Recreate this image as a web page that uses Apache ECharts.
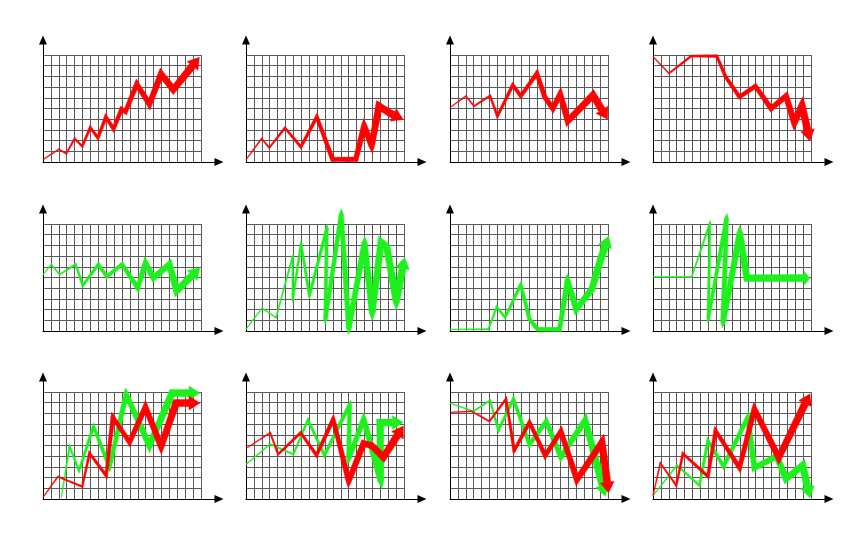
<!DOCTYPE html>
<html><head><meta charset="utf-8">
<script src="https://cdn.jsdelivr.net/npm/echarts@6/dist/echarts.min.js"></script>
<style>html,body{margin:0;background:#fff}#c{width:860px;height:538px}</style>
</head><body><div id="c"></div>
<script>
// grid ranges (20 columns x 10 rows per small chart)
const xMax = 20, yMax = 10;

// ---- data (x in grid columns, y in grid rows) ----
const p1Red = [[0,0.22],[2,1.19],[2.95,0.78],[4,2.19],[4.97,1.47],[5.98,3.22],[6.95,2.25],[7.96,4.22],[8.93,3.09],[9.94,4.94],[10.44,4.69],[11.87,7.28],[13.47,5.41],[14.95,8.22],[16.5,6.78],[19.8,9.78]];
const p2Red = [[0,0.22],[1.98,2.19],[2.95,1.34],[4.93,3.19],[6.95,1.41],[8.97,4.22],[10.95,0.25],[13.9,0.25],[14.95,3.38],[15.9,1.56],[16.84,5.22],[18.3,4.53],[19.9,3.97]];
const p3Red = [[0,5.09],[2.03,6.16],[3.04,5.22],[5.07,6.19],[6.0,4.28],[7.95,7.19],[8.97,6.16],[11.0,8.28],[11.99,6.09],[13.02,5.0],[13.95,6.34],[14.93,3.84],[18.1,6.25],[19.96,4.0]];
const p4Red = [[0,9.85],[2.02,8.28],[4.84,9.9],[8.08,9.9],[9.18,7.97],[10.95,6.09],[12.97,7.09],[14.95,5.0],[16.84,6.16],[17.9,3.66],[18.86,5.31],[19.87,1.97]];
const p5Green = [[0,5.28],[1.05,6.23],[2.1,5.28],[4.13,6.23],[5.05,4.25],[7.0,6.23],[8.08,5.09],[10.02,6.23],[12.0,4.03],[12.97,6.35],[13.98,4.97],[16.0,6.23],[16.93,3.77],[19.87,5.91]];
const p6Green = [[0,0.16],[2.03,2.14],[3.8,1.26],[5.92,6.98],[5.92,2.9],[6.97,8.18],[8.03,3.3],[10.23,9.6],[10.06,1.1],[12.05,10.9],[13.02,0.3],[15.0,8.18],[15.98,1.73],[17.1,8.3],[17.8,7.9],[19.03,2.83],[20.08,6.86]];
const p7Green = [[0,0.16],[4.86,0.16],[5.92,2.26],[6.98,1.26],[8.96,4.34],[10.06,1.1],[11.08,0.16],[13.87,0.16],[14.88,4.72],[15.98,2.04],[17.97,3.93],[19.03,6.6],[20.08,8.87]];
const p8Green = [[0,5.06],[4.9,5.06],[7.21,10.1],[7.0,1.14],[9.3,10.5],[8.89,0.89],[10.98,9.11],[11.9,4.94],[18.95,4.94],[19.87,4.94]];
const p9Green = [[2.32,0.16],[3.37,4.91],[4.55,2.66],[6.4,6.78],[8.42,2.97],[10.53,9.78],[13.47,5.0],[16.34,9.9],[19.87,9.9]];
const p9Red = [[0,0.16],[1.89,2.09],[4.97,1.16],[5.89,4.28],[8.0,2.19],[8.84,7.66],[10.95,5.31],[12.97,8.59],[14.95,4.91],[16.84,8.97],[17.9,8.97],[19.87,8.97]];
const p10Green = [[0,3.24],[3.06,5.13],[6.0,4.18],[7.84,7.39],[9.94,4.09],[13.12,8.81],[13.0,3.77],[14.89,7.45],[17.06,1.73],[16.98,7.14],[19.92,7.14]];
const p10Red = [[0,4.72],[3.06,6.19],[4.07,4.18],[6.92,6.19],[8.93,4.09],[11.03,7.45],[13.0,1.67],[14.89,5.19],[15.9,5.0],[17.4,3.9],[19.92,6.82]];
const p11Green = [[0,8.97],[2.96,8.19],[5.07,9.22],[6.13,6.42],[8.03,9.35],[10.06,5.08],[12.18,7.26],[14.04,3.93],[17.12,7.35],[19.66,0.25]];
const p11Red = [[0,8.1],[2.75,8.19],[5.0,7.26],[7.1,9.35],[8.12,4.52],[10.06,7.17],[12.05,4.05],[14.04,6.32],[16.07,1.81],[19.24,5.3],[20.08,0.56]];
const p12Green = [[0,0.31],[3.03,3.14],[5.89,1.26],[6.95,5.44],[8.93,3.05],[12.0,7.64],[12.84,2.92],[15.66,3.99],[16.84,1.89],[18.95,3.14],[19.87,0.1]];
const p12Red = [[0,0.31],[0.93,3.36],[2.95,1.26],[3.79,4.25],[6.95,2.11],[7.92,6.38],[10.95,2.92],[12.84,8.4],[15.92,3.87],[19.87,9.84]];

const RED = '#ff0000', GREEN = '#1ef01e';
const panels = [
  [[p1Red, RED]], [[p2Red, RED]], [[p3Red, RED]], [[p4Red, RED]],
  [[p5Green, GREEN]], [[p6Green, GREEN]], [[p7Green, GREEN]], [[p8Green, GREEN]],
  [[p9Green, GREEN],[p9Red, RED]], [[p10Green, GREEN],[p10Red, RED]],
  [[p11Green, GREEN],[p11Red, RED]], [[p12Green, GREEN],[p12Red, RED]]
];

// layout
const colLeft = [43, 246, 450, 653];
const rowTop = [55, 224, 392];
const GW = 158, GH = 107;

function makeRender(pts, color) {
  const W0 = 0.8, W1 = 7.2, HEAD_LEN = 11, HEAD_HW = 7, MITER = 2.6;
  return function (params, api) {
    if (params.dataIndex !== 0) return null;
    const P = pts.map(p => api.coord(p));
    const n = P.length - 1;
    const tip = P[n];
    let dx = tip[0] - P[n - 1][0], dy = tip[1] - P[n - 1][1];
    const L = Math.hypot(dx, dy) || 1; dx /= L; dy /= L;
    const hl = Math.min(HEAD_LEN, L * 0.8);
    const base = [tip[0] - dx * hl, tip[1] - dy * hl];
    const S = P.slice(0, n).concat([base]);
    const cum = [0];
    for (let i = 1; i < S.length; i++) cum.push(cum[i - 1] + Math.hypot(S[i][0] - S[i - 1][0], S[i][1] - S[i - 1][1]));
    const total = cum[cum.length - 1] || 1;
    const w = cum.map(c => W0 + (W1 - W0) * c / total);
    const dirs = [], norms = [];
    for (let i = 0; i < S.length - 1; i++) {
      let ax = S[i + 1][0] - S[i][0], ay = S[i + 1][1] - S[i][1];
      const l = Math.hypot(ax, ay) || 1; ax /= l; ay /= l;
      dirs.push([ax, ay]); norms.push([-ay, ax]);
    }
    const st = { fill: color, stroke: color, lineWidth: 0.4 };
    const children = [];
    for (let i = 0; i < S.length - 1; i++) {
      const a = S[i], b = S[i + 1], nn = norms[i];
      const h0 = w[i] / 2, h1 = w[i + 1] / 2;
      children.push({ type: 'polygon', shape: { points: [
        [a[0] + nn[0] * h0, a[1] + nn[1] * h0], [b[0] + nn[0] * h1, b[1] + nn[1] * h1],
        [b[0] - nn[0] * h1, b[1] - nn[1] * h1], [a[0] - nn[0] * h0, a[1] - nn[1] * h0]] }, style: st });
    }
    // miter joins
    for (let i = 1; i < S.length - 1; i++) {
      const d1 = dirs[i - 1], d2 = dirs[i], n1 = norms[i - 1], n2 = norms[i];
      const cr = d1[0] * d2[1] - d1[1] * d2[0];
      if (Math.abs(cr) < 1e-6 && d1[0] * d2[0] + d1[1] * d2[1] > 0) continue;
      const s = cr > 0 ? -1 : 1;
      let mx = n1[0] + n2[0], my = n1[1] + n2[1];
      let ml = Math.hypot(mx, my);
      if (ml < 1e-6) { mx = d1[0]; my = d1[1]; ml = 1; }
      mx /= ml; my /= ml;
      const dot = Math.max(mx * n1[0] + my * n1[1], 1 / MITER);
      const h = w[i] / 2, V = S[i];
      children.push({ type: 'polygon', shape: { points: [
        V, [V[0] + s * n1[0] * h, V[1] + s * n1[1] * h],
        [V[0] + s * mx * h / dot, V[1] + s * my * h / dot],
        [V[0] + s * n2[0] * h, V[1] + s * n2[1] * h]] }, style: st });
    }
    // arrow head
    children.push({ type: 'polygon', shape: { points: [
      [base[0] - dy * HEAD_HW, base[1] + dx * HEAD_HW], tip,
      [base[0] + dy * HEAD_HW, base[1] - dx * HEAD_HW]] }, style: st });
    return { type: 'group', children };
  };
}

const grid = [], xAxis = [], yAxis = [], series = [];
panels.forEach((lines, k) => {
  const left = colLeft[k % 4], top = rowTop[Math.floor(k / 4)];
  grid.push({ left, top, width: GW, height: GH });
  grid.push({ left, top: top - 15, width: GW + 18, height: GH + 15 });
  const split = { show: true, lineStyle: { color: '#5a5a5a', width: 1 } };
  xAxis.push({ gridIndex: 2 * k, type: 'value', min: 0, max: xMax, interval: 1,
    axisLine: { show: false }, axisTick: { show: false }, axisLabel: { show: false }, splitLine: split });
  yAxis.push({ gridIndex: 2 * k, type: 'value', min: 0, max: yMax, interval: 1,
    axisLine: { show: false }, axisTick: { show: false }, axisLabel: { show: false }, splitLine: split });
  const axLine = { show: true, symbol: ['none', 'triangle'], symbolSize: [8, 9], lineStyle: { color: '#000', width: 1 } };
  xAxis.push({ gridIndex: 2 * k + 1, type: 'value', min: 0, max: 1, axisLine: axLine,
    axisTick: { show: false }, axisLabel: { show: false }, splitLine: { show: false } });
  yAxis.push({ gridIndex: 2 * k + 1, type: 'value', min: 0, max: 1, axisLine: axLine,
    axisTick: { show: false }, axisLabel: { show: false }, splitLine: { show: false } });
  lines.forEach(([pts, color]) => {
    series.push({ type: 'custom', xAxisIndex: 2 * k, yAxisIndex: 2 * k, data: pts,
      renderItem: makeRender(pts, color), silent: true, clip: false });
  });
});

const chart = echarts.init(document.getElementById('c'), null, { renderer: 'canvas' });
chart.setOption({ backgroundColor: '#fff', animation: false, grid, xAxis, yAxis, series });
</script></body></html>
